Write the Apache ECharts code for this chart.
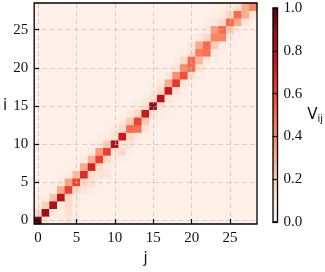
<!DOCTYPE html>
<html>
<head>
<meta charset="utf-8">
<script src="https://cdn.jsdelivr.net/npm/echarts@6/dist/echarts.min.js"></script>
<style>html,body{margin:0;padding:0;background:#fff;}#c{width:325px;height:272px;}</style>
</head>
<body>
<div id="c"></div>
<script>
// categories (matrix indices)
var jCats = [0,1,2,3,4,5,6,7,8,9,10,11,12,13,14,15,16,17,18,19,20,21,22,23,24,25,26,27,28];
var iCats = [0,1,2,3,4,5,6,7,8,9,10,11,12,13,14,15,16,17,18,19,20,21,22,23,24,25,26,27,28];
// tick labels
var axisTickValues = [0,5,10,15,20,25];
var cbarTickValues = [0,0.2,0.4,0.6,0.8,1.0];
// V_ij matrix, row i (bottom to top), columns j = 0..28
var V = [
/*0*/ [.97,.08,.05,.05,.10, .04,.03,.03,.03,.03, .03,.03,.03,.03,.03, .03,.03,.03,.03,.03, .03,.03,.03,.03,.03, .03,.03,.03,.03],
/*1*/ [.15,.88,.08,.05,.12, .04,.03,.03,.03,.03, .03,.03,.03,.03,.03, .03,.03,.03,.03,.03, .03,.03,.03,.03,.03, .03,.03,.03,.03],
/*2*/ [.05,.18,.85,.08,.14, .05,.03,.03,.03,.03, .03,.03,.03,.03,.03, .03,.03,.03,.03,.03, .03,.03,.03,.03,.03, .03,.03,.03,.03],
/*3*/ [.04,.05,.22,.80,.15, .08,.04,.03,.03,.03, .03,.03,.03,.03,.03, .03,.03,.03,.03,.03, .03,.03,.03,.03,.03, .03,.03,.03,.03],
/*4*/ [.03,.04,.06,.30,.62, .15,.10,.04,.03,.03, .03,.03,.03,.03,.03, .03,.03,.03,.03,.03, .03,.03,.03,.03,.03, .03,.03,.03,.03],
/*5*/ [.03,.03,.04,.07,.32, .62,.15,.12,.05,.03, .03,.03,.03,.03,.03, .03,.03,.03,.03,.03, .03,.03,.03,.03,.03, .03,.03,.03,.03],
/*6*/ [.03,.03,.03,.04,.06, .25,.68,.12,.10,.10, .04,.03,.03,.03,.03, .03,.03,.03,.03,.03, .03,.03,.03,.03,.03, .03,.03,.03,.03],
/*7*/ [.03,.03,.03,.03,.04, .06,.30,.72,.15,.08, .04,.03,.03,.03,.03, .03,.03,.03,.03,.03, .03,.03,.03,.03,.03, .03,.03,.03,.03],
/*8*/ [.03,.03,.03,.03,.03, .04,.06,.28,.62,.15, .06,.04,.03,.03,.03, .03,.03,.03,.03,.03, .03,.03,.03,.03,.03, .03,.03,.03,.03],
/*9*/ [.03,.03,.03,.03,.03, .03,.04,.07,.35,.62, .12,.15,.05,.03,.03, .03,.03,.03,.03,.03, .03,.03,.03,.03,.03, .03,.03,.03,.03],
/*10*/[.03,.03,.03,.03,.03, .03,.03,.04,.07,.20, .85,.10,.10,.04,.03, .03,.03,.03,.03,.03, .03,.03,.03,.03,.03, .03,.03,.03,.03],
/*11*/[.03,.03,.03,.03,.03, .03,.03,.03,.04,.06, .12,.75,.15,.07,.04, .03,.03,.03,.03,.03, .03,.03,.03,.03,.03, .03,.03,.03,.03],
/*12*/[.03,.03,.03,.03,.03, .03,.03,.03,.03,.03, .07,.15,.50,.48,.10, .04,.03,.03,.03,.03, .03,.03,.03,.03,.03, .03,.03,.03,.03],
/*13*/[.03,.03,.03,.03,.03, .03,.03,.03,.03,.03, .04,.07,.20,.60,.20, .06,.04,.03,.03,.03, .03,.03,.03,.03,.03, .03,.03,.03,.03],
/*14*/[.03,.03,.03,.03,.03, .03,.03,.03,.03,.03, .03,.04,.07,.15,.75, .12,.06,.04,.03,.03, .03,.03,.03,.03,.03, .03,.03,.03,.03],
/*15*/[.03,.03,.03,.03,.03, .03,.03,.03,.03,.03, .03,.03,.04,.06,.12, .90,.12,.05,.03,.03, .03,.03,.03,.03,.03, .03,.03,.03,.03],
/*16*/[.03,.03,.03,.03,.03, .03,.03,.03,.03,.03, .03,.03,.03,.04,.06, .12,.80,.10,.05,.03, .03,.03,.03,.03,.03, .03,.03,.03,.03],
/*17*/[.03,.03,.03,.03,.03, .03,.03,.03,.03,.03, .03,.03,.03,.03,.03, .06,.15,.75,.10,.05, .03,.03,.03,.03,.03, .03,.03,.03,.03],
/*18*/[.03,.03,.03,.03,.03, .03,.03,.03,.03,.03, .03,.03,.03,.03,.03, .04,.08,.30,.65,.10, .05,.03,.03,.03,.03, .03,.03,.03,.03],
/*19*/[.03,.03,.03,.03,.03, .03,.03,.03,.03,.03, .03,.03,.03,.03,.03, .03,.04,.08,.38,.58, .12,.05,.03,.03,.03, .03,.03,.03,.03],
/*20*/[.03,.03,.03,.03,.03, .03,.03,.03,.03,.03, .03,.03,.03,.03,.03, .03,.03,.05,.10,.40, .50,.12,.05,.03,.03, .03,.03,.03,.03],
/*21*/[.03,.03,.03,.03,.03, .03,.03,.03,.03,.03, .03,.03,.03,.03,.03, .03,.03,.03,.05,.15, .50,.25,.08,.04,.03, .03,.03,.03,.03],
/*22*/[.03,.03,.03,.03,.03, .03,.03,.03,.03,.03, .03,.03,.03,.03,.03, .03,.03,.03,.03,.05, .12,.45,.48,.08,.04, .03,.03,.03,.03],
/*23*/[.03,.03,.03,.03,.03, .03,.03,.03,.03,.03, .03,.03,.03,.03,.03, .03,.03,.03,.03,.03, .08,.30,.50,.20,.06, .04,.03,.03,.03],
/*24*/[.03,.03,.03,.03,.03, .03,.03,.03,.03,.03, .03,.03,.03,.03,.03, .03,.03,.03,.03,.03, .04,.07,.15,.42,.42, .08,.04,.03,.03],
/*25*/[.03,.03,.03,.03,.03, .03,.03,.03,.03,.03, .03,.03,.03,.03,.03, .03,.03,.03,.03,.03, .03,.04,.08,.35,.50, .20,.06,.03,.03],
/*26*/[.03,.03,.03,.03,.03, .03,.03,.03,.03,.03, .03,.03,.03,.03,.03, .03,.03,.03,.03,.03, .03,.03,.05,.07,.15, .50,.30,.08,.04],
/*27*/[.03,.03,.03,.03,.03, .03,.03,.03,.03,.03, .03,.03,.03,.03,.03, .03,.03,.03,.03,.03, .03,.03,.03,.05,.07, .15,.50,.30,.10],
/*28*/[.03,.03,.03,.03,.03, .03,.03,.03,.03,.03, .03,.03,.03,.03,.03, .03,.03,.03,.03,.03, .03,.03,.03,.04,.05, .08,.12,.30,.42]
];

var reds = ['#fff5f0','#fee0d2','#fcbba1','#fc9272','#fb6a4a','#ef3b2c','#cb181d','#a50f15','#67000d'];

var heatData = [];
for (var i = 0; i < V.length; i++) {
  for (var j = 0; j < V[i].length; j++) heatData.push([j, i, V[i][j]]);
}

var serif = 'Liberation Serif';
var sans = 'DejaVu Sans';
var gridLine = {show: true, lineStyle: {color: 'rgba(185,185,185,0.6)', width: 1, type: [5, 3]}};

var chart = echarts.init(document.getElementById('c'), null, {renderer: 'canvas'});
chart.setOption({
  animation: false,
  backgroundColor: '#fff',
  grid: [
    {left: 33, top: 3, width: 224, height: 224, show: true, backgroundColor: 'transparent', borderColor: '#000', borderWidth: 1.3, z: 10},
    {left: 273, top: 8, width: 12, height: 214, show: true, backgroundColor: 'transparent', borderColor: '#000', borderWidth: 1.3, z: 10}
  ],
  visualMap: {
    show: false, min: 0, max: 1, seriesIndex: 0, dimension: 2,
    inRange: {color: reds}
  },
  xAxis: [
    {type: 'category', gridIndex: 0, data: jCats, show: false},
    {type: 'value', gridIndex: 0, min: -0.5, max: 28.5, position: 'bottom', z: 5,
     axisLine: {show: false},
     axisTick: {show: true, inside: true, length: 5, customValues: axisTickValues, lineStyle: {color: '#000', width: 1.2}},
     axisLabel: {show: true, customValues: axisTickValues, margin: 7, fontFamily: serif, fontSize: 15, color: '#111'},
     splitLine: gridLine,
     name: 'j', nameLocation: 'middle', nameGap: 28,
     nameTextStyle: {fontFamily: sans, fontSize: 15, color: '#111'}},
    {type: 'category', gridIndex: 1, data: ['c'], show: false}
  ],
  yAxis: [
    {type: 'category', gridIndex: 0, data: iCats, show: false},
    {type: 'value', gridIndex: 0, min: -0.5, max: 28.5, position: 'left', z: 5,
     axisLine: {show: false},
     axisTick: {show: true, inside: true, length: 5, customValues: axisTickValues, lineStyle: {color: '#000', width: 1.2}},
     axisLabel: {show: true, customValues: axisTickValues, margin: 6, fontFamily: serif, fontSize: 15, color: '#111'},
     splitLine: gridLine,
     name: 'i', nameLocation: 'middle', nameGap: 27, nameRotate: 0,
     nameTextStyle: {fontFamily: sans, fontSize: 15, color: '#111', verticalAlign: 'bottom'}},
    {type: 'value', gridIndex: 1, min: 0, max: 1, position: 'right', z: 11,
     axisLine: {show: false},
     axisTick: {show: true, inside: true, length: 5, customValues: cbarTickValues, lineStyle: {color: '#000', width: 1.2}},
     axisLabel: {show: true, customValues: cbarTickValues, margin: 6, fontFamily: serif, fontSize: 15, color: '#111',
       formatter: function (v) { return v.toFixed(1); }},
     splitLine: {show: false},
     name: '{v|V}{s|ij}', nameLocation: 'middle', nameGap: 23, nameRotate: 0,
     nameTextStyle: {rich: {v: {fontFamily: sans, fontSize: 15, color: '#111'}, s: {fontFamily: sans, fontSize: 10, color: '#111', padding: [8, 0, 0, 0]}}}}
  ],
  series: [
    {type: 'heatmap', xAxisIndex: 0, yAxisIndex: 0, data: heatData, itemStyle: {borderWidth: 0}, emphasis: {disabled: true}},
    {type: 'bar', xAxisIndex: 2, yAxisIndex: 2, data: [1], barWidth: '100%', silent: true,
     itemStyle: {color: new echarts.graphic.LinearGradient(0, 1, 0, 0, reds.map(function (c, k) { return {offset: k / (reds.length - 1), color: c}; }))}}
  ]
});
</script>
</body>
</html>
